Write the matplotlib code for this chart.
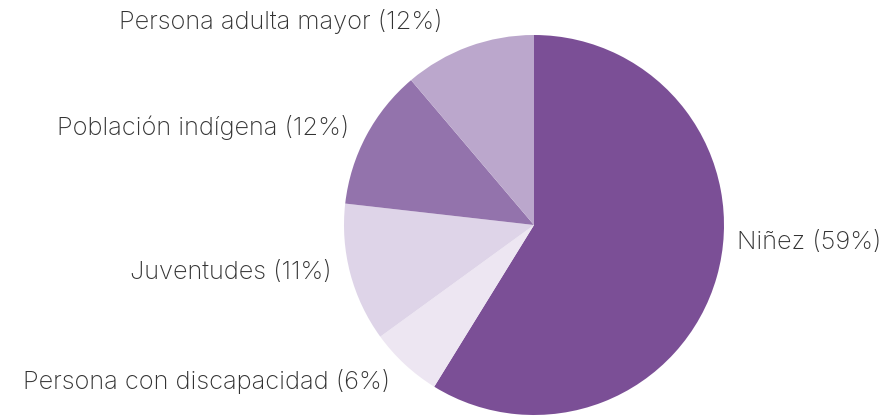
import matplotlib.pyplot as plt

labels = ["Niñez (59%)", "Persona con discapacidad (6%)", "Juventudes (11%)",
          "Población indígena (12%)", "Persona adulta mayor (12%)"]
values = [58.8, 6.2, 11.8, 12.0, 11.2]
colors = ["#7b4f96", "#ede6f2", "#ded4e8", "#9373ac", "#bba7cc"]

# label anchor points in pixels (x, y from top), horizontal alignment
label_pos = [(737, 243, "left"), (390, 381, "right"), (332, 272, "right"),
             (349, 127, "right"), (443, 22, "right")]

W, H = 881, 416
fig = plt.figure(figsize=(W / 100, H / 100), dpi=100)

# pie centre (534, 225), radius 190
cx, cy, r = 534, 225, 190
ax = fig.add_axes([(cx - r) / W, (H - cy - r) / H, 2 * r / W, 2 * r / H])
ax.pie(values, colors=colors, startangle=90, counterclock=False,
       wedgeprops=dict(linewidth=0))
ax.set_xlim(-1, 1)
ax.set_ylim(-1, 1)
ax.set_aspect("equal")

for lab, (x, y, ha) in zip(labels, label_pos):
    fig.text(x / W, 1 - y / H, lab, ha=ha, va="center",
             fontsize=18.3, color="#333333", family="Inter", fontweight="light")

fig.savefig("out.png", dpi=100)
